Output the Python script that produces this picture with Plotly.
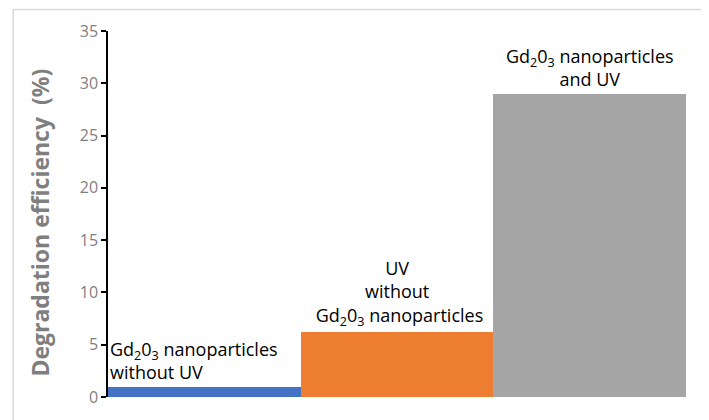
import plotly.graph_objects as go

categories = ["Gd2O3 without UV", "UV without Gd2O3", "Gd2O3 and UV"]
values = [1.0, 6.2, 29.0]
colors = ["#4472C4", "#ED7D31", "#A5A5A5"]
labels = [
    "Gd<sub>2</sub>0<sub>3</sub> nanoparticles<br>without UV",
    "UV<br>without<br> Gd<sub>2</sub>0<sub>3</sub> nanoparticles",
    "Gd<sub>2</sub>0<sub>3</sub> nanoparticles<br>and UV",
]
y_ticks = [0, 5, 10, 15, 20, 25, 30, 35]
y_title = "Degradation efficiency  (%)"

fig = go.Figure()
fig.add_trace(go.Bar(x=categories, y=values, marker=dict(color=colors, line=dict(width=0)),
                     width=1.0, showlegend=False, hoverinfo="skip"))

font_family = "Open Sans, Noto Sans, sans-serif"
fig.add_annotation(x=-0.5, y=values[0] + 0.1, text=labels[0], showarrow=False,
                   xanchor="left", yanchor="bottom", align="left",
                   font=dict(family=font_family, size=18, color="#000000"))
fig.add_annotation(x=1, y=values[1] + 0.0, text=labels[1], showarrow=False,
                   xanchor="center", yanchor="bottom", align="center",
                   font=dict(family=font_family, size=18, color="#000000"))
fig.add_annotation(x=2, y=values[2] + 0.1, text=labels[2], showarrow=False,
                   xanchor="center", yanchor="bottom", align="center",
                   font=dict(family=font_family, size=18, color="#000000"))

# y-axis title
fig.add_annotation(xref="paper", yref="paper", x=-0.118, y=0.476, text="<b>" + y_title + "</b>",
                   textangle=-90, showarrow=False, xanchor="center", yanchor="middle",
                   font=dict(family=font_family, size=23, color="#7F7F7F"))

# chart border
fig.add_shape(type="rect", xref="paper", yref="paper", x0=-0.164, x1=1.033, y0=-0.3, y1=1.059,
              line=dict(color="#D9D9D9", width=1.5), fillcolor="rgba(0,0,0,0)", layer="below")

# page body has an 8px margin; figure is sized to fit the window
fig.update_layout(
    width=701, height=412,
    margin=dict(l=100, r=23, t=23, b=19),
    paper_bgcolor="white", plot_bgcolor="white",
    bargap=0,
    font=dict(family=font_family),
    xaxis=dict(showticklabels=False, showline=False, showgrid=False, zeroline=False,
               ticks="", range=[-0.5, 2.5]),
    yaxis=dict(range=[0, 35], tickvals=y_ticks, showgrid=False, zeroline=False,
               showline=True, linecolor="#000000", linewidth=1.5,
               ticks="outside", ticklen=5, tickcolor="#000000", tickwidth=1.5,
               tickfont=dict(family=font_family, size=16, color="#7F7F7F")),
)

fig.write_html("out.html")
